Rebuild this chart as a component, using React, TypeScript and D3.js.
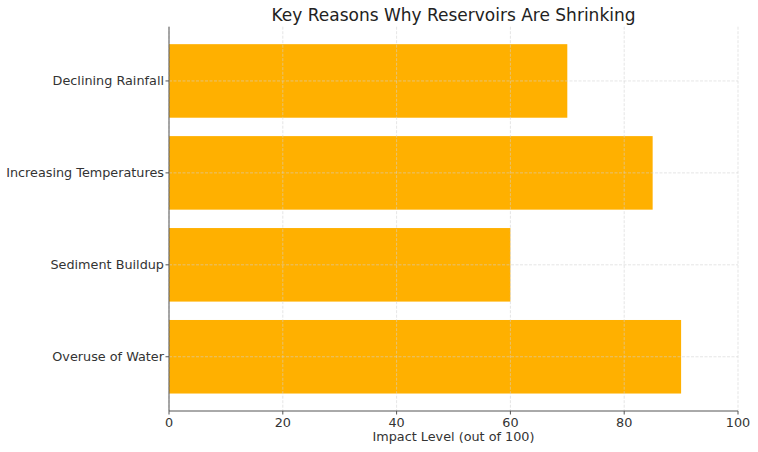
import React from "react";
import * as d3 from "d3";

const categories = ["Overuse of Water", "Sediment Buildup", "Increasing Temperatures", "Declining Rainfall"];
const values = [90, 60, 85, 70];
const xTicks = [0, 20, 40, 60, 80, 100];

const W = 758, H = 452;
const left = 169, right = 738, top = 26.7, bottom = 411;
const font = "DejaVu Sans, sans-serif";

export default function App() {
  const x = d3.scaleLinear().domain([0, 100]).range([left, right]);
  const y = d3.scaleLinear().domain([-0.59, 3.59]).range([bottom, top]);
  const bh = y(0) - y(0.8);
  return (
    <svg width={W} height={H} style={{ position: "absolute", left: 0, top: 0 }}>
      <rect width={W} height={H} fill="#fff" />
      {categories.map((c, i) => (
        <rect key={c} x={x(0)} y={y(i + 0.4)} width={x(values[i]) - x(0)} height={bh} fill="#FFB000" />
      ))}
      {xTicks.map((t) => (
        <line key={"gx" + t} x1={x(t)} x2={x(t)} y1={top} y2={bottom} stroke="#d0d0d0" strokeOpacity={0.7} strokeDasharray="3,1.5" strokeWidth={0.8} />
      ))}
      {categories.map((c, i) => (
        <line key={"gy" + c} x1={left} x2={right} y1={y(i)} y2={y(i)} stroke="#d0d0d0" strokeOpacity={0.7} strokeDasharray="3,1.5" strokeWidth={0.8} />
      ))}
      <line x1={left} x2={left} y1={top} y2={bottom} stroke="#555" strokeWidth={1} />
      <line x1={left} x2={right} y1={bottom} y2={bottom} stroke="#555" strokeWidth={1} />
      {xTicks.map((t) => (
        <g key={"tx" + t}>
          <line x1={x(t)} x2={x(t)} y1={bottom} y2={bottom + 3.5} stroke="#555" />
          <text x={x(t)} y={bottom + 16} textAnchor="middle" fontFamily={font} fontSize={12.8} fill="#333">{t}</text>
        </g>
      ))}
      {categories.map((c, i) => (
        <g key={"ty" + c}>
          <line x1={left - 3.5} x2={left} y1={y(i)} y2={y(i)} stroke="#555" />
          <text x={left - 5} y={y(i)} dy="0.35em" textAnchor="end" fontFamily={font} fontSize={12.8} fill="#333">{c}</text>
        </g>
      ))}
      <text x={(left + right) / 2} y={441} textAnchor="middle" fontFamily={font} fontSize={12.8} fill="#333">Impact Level (out of 100)</text>
      <text x={(left + right) / 2} y={21} textAnchor="middle" fontFamily={font} fontSize={17} fill="#222">Key Reasons Why Reservoirs Are Shrinking</text>
    </svg>
  );
}
